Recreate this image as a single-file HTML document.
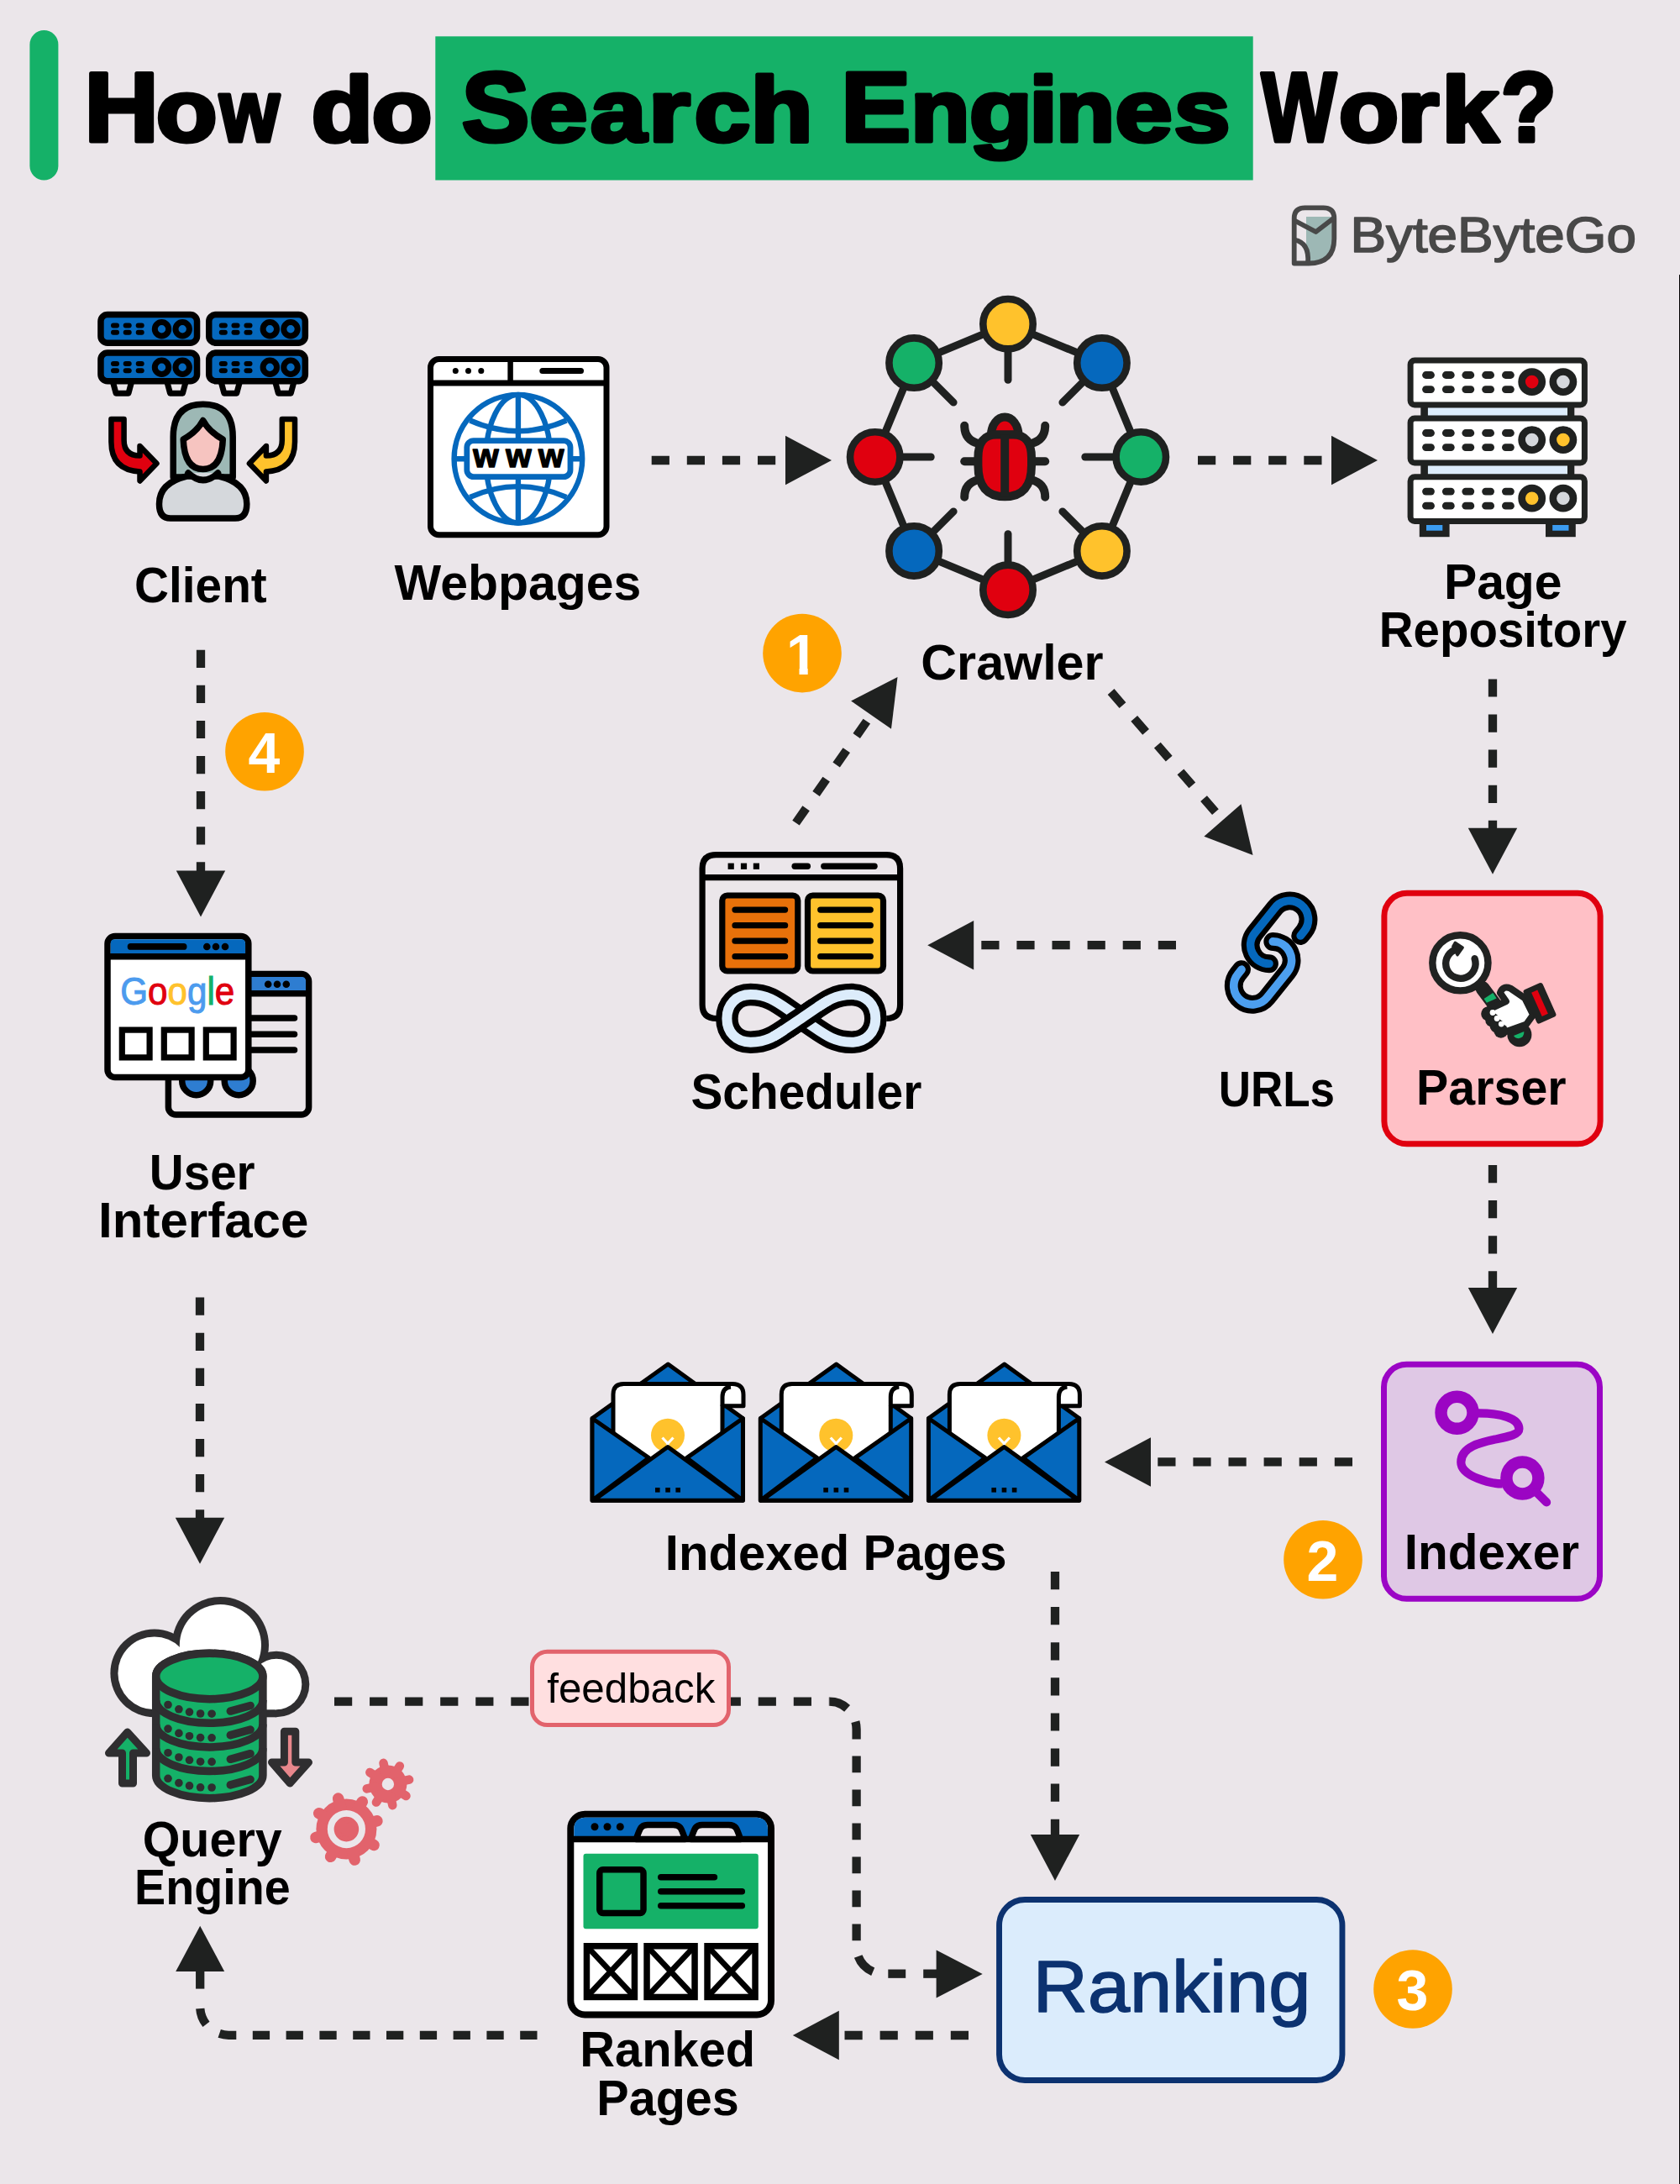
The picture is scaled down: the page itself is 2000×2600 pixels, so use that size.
<!DOCTYPE html>
<html lang="en"><head><meta charset="utf-8"><title>How do Search Engines Work?</title>
<style>
html,body{margin:0;padding:0;background:#EBE6EA;}
body{width:2000px;height:2600px;overflow:hidden;}
svg{display:block;}
text{font-family:"Liberation Sans",sans-serif;}
.lb{font-weight:bold;font-size:56px;fill:#000;text-anchor:middle;}
</style></head><body>
<svg width="2000" height="2600" viewBox="0 0 2000 2600">
<rect x="0" y="0" width="2000" height="2600" fill="#EBE6EA"/>
<rect x="1999" y="327" width="1" height="2273" fill="#000"/>
<rect x="35.4" y="36" width="34" height="178.6" rx="17" fill="#15B168"/>
<rect x="518.3" y="43.3" width="973.4" height="171.2" fill="#15B168"/>
<g id="arrows">
<line x1="775.7" y1="548.0" x2="950.0" y2="548.0" stroke="#1F2120" stroke-width="10.3" stroke-dasharray="21.2 20.9" stroke-dashoffset="0"/><polygon points="990.0,548.0 935.0,577.2 935.0,518.8" fill="#1F2120"/>
<line x1="1426.0" y1="548.0" x2="1600.0" y2="548.0" stroke="#1F2120" stroke-width="10.3" stroke-dasharray="21.2 20.9" stroke-dashoffset="0"/><polygon points="1640.0,548.0 1585.0,577.2 1585.0,518.8" fill="#1F2120"/>
<line x1="1777.0" y1="808.4" x2="1777.0" y2="1000.7" stroke="#1F2120" stroke-width="10.3" stroke-dasharray="21.2 20.9" stroke-dashoffset="0"/><polygon points="1777.0,1040.7 1747.8,985.7 1806.2,985.7" fill="#1F2120"/>
<line x1="1777.0" y1="1387.0" x2="1777.0" y2="1548.0" stroke="#1F2120" stroke-width="10.3" stroke-dasharray="21.2 20.9" stroke-dashoffset="0"/><polygon points="1777.0,1588.0 1747.8,1533.0 1806.2,1533.0" fill="#1F2120"/>
<line x1="1610.0" y1="1740.4" x2="1355.0" y2="1740.4" stroke="#1F2120" stroke-width="10.3" stroke-dasharray="21.2 20.9" stroke-dashoffset="0"/><polygon points="1315.0,1740.4 1370.0,1711.2 1370.0,1769.7" fill="#1F2120"/>
<line x1="1256.0" y1="1871.0" x2="1256.0" y2="2199.0" stroke="#1F2120" stroke-width="10.3" stroke-dasharray="21.2 20.9" stroke-dashoffset="0"/><polygon points="1256.0,2239.0 1226.8,2184.0 1285.2,2184.0" fill="#1F2120"/>
<line x1="1153.0" y1="2423.0" x2="983.8" y2="2423.0" stroke="#1F2120" stroke-width="10.3" stroke-dasharray="21.2 20.9" stroke-dashoffset="0"/><polygon points="943.8,2423.0 998.8,2393.8 998.8,2452.2" fill="#1F2120"/>
<line x1="239.0" y1="773.7" x2="239.0" y2="1051.4" stroke="#1F2120" stroke-width="10.3" stroke-dasharray="21.2 20.9" stroke-dashoffset="0"/><polygon points="239.0,1091.4 209.8,1036.4 268.2,1036.4" fill="#1F2120"/>
<line x1="238.0" y1="1544.6" x2="238.0" y2="1821.7" stroke="#1F2120" stroke-width="10.3" stroke-dasharray="21.2 20.9" stroke-dashoffset="0"/><polygon points="238.0,1861.7 208.8,1806.7 267.2,1806.7" fill="#1F2120"/>
<line x1="947.5" y1="979.6" x2="1045.6" y2="838.8" stroke="#1F2120" stroke-width="10.3" stroke-dasharray="21.2 20.9" stroke-dashoffset="0"/><polygon points="1068.5,806.0 1061.0,867.8 1013.1,834.4" fill="#1F2120"/>
<line x1="1322.6" y1="823.5" x2="1465.3" y2="987.8" stroke="#1F2120" stroke-width="10.3" stroke-dasharray="21.2 20.9" stroke-dashoffset="0"/><polygon points="1491.5,1018.0 1433.4,995.7 1477.5,957.3" fill="#1F2120"/>
<line x1="1400.0" y1="1125.2" x2="1144.2" y2="1125.2" stroke="#1F2120" stroke-width="10.3" stroke-dasharray="21.2 20.9" stroke-dashoffset="0"/><polygon points="1104.2,1125.2 1159.2,1096.0 1159.2,1154.5" fill="#1F2120"/>
<path d="M639.5,2422.8 H272.2 A34,34 0 0 1 238.2,2388.8" fill="none" stroke="#1F2120" stroke-width="10.3" stroke-dasharray="20.3 19.5"/>
<line x1="238.2" y1="2367.6" x2="238.2" y2="2340" stroke="#1F2120" stroke-width="10.3"/>
<polygon points="238.2,2292.7 267.2,2347.1 209.2,2347.1" fill="#1F2120"/>
<line x1="398" y1="2025.7" x2="987.5" y2="2025.7" stroke="#1F2120" stroke-width="10.3" stroke-dasharray="21.2 20.86"/>
<path d="M987.5,2025.7 A32.1,33.1 0 0 1 1008.6,2033.8" fill="none" stroke="#1F2120" stroke-width="10.3"/>
<path d="M1018.4,2049.7 A32.1,33.1 0 0 1 1019.6,2058.8 V2070.5" fill="none" stroke="#1F2120" stroke-width="10.3"/>
<line x1="1019.6" y1="2090.6" x2="1019.6" y2="2311" stroke="#1F2120" stroke-width="10.3" stroke-dasharray="19.6 20.4"/>
<path d="M1021.7,2329.0 A32.1,32 0 0 0 1039.2,2347.2" fill="none" stroke="#1F2120" stroke-width="10.3"/>
<line x1="1057.3" y1="2349.7" x2="1078.2" y2="2349.7" stroke="#1F2120" stroke-width="10.3"/>
<line x1="1099.2" y1="2349.7" x2="1130" y2="2349.7" stroke="#1F2120" stroke-width="10.3"/>
<polygon points="1169.7,2350.0 1114.6,2378.6 1114.6,2321.4" fill="#1F2120"/>
</g>
<rect x="1647.9" y="1063.3" width="257.2" height="298.5" rx="27" fill="#FFC0C6" stroke="#E0000F" stroke-width="7"/>
<rect x="1647.5" y="1624.3" width="257" height="279" rx="27" fill="#DFC8E5" stroke="#9B05C5" stroke-width="7"/>
<rect x="1189.55" y="2261.45" width="408.4" height="215" rx="30.5" fill="#DBECFC" stroke="#0C3270" stroke-width="6.9"/>
<rect x="633.5" y="1966.2" width="234" height="87.3" rx="18" fill="#FFDFE0" stroke="#E2636C" stroke-width="5"/>
<clipPath id="oneclip"><path d="M930,740 H975 V795.6 H961.7 V806 H951.5 V795.6 H930 Z"/></clipPath>
<circle cx="955" cy="777.6" r="46.8" fill="#FFA300"/>
<text x="954.9" y="803.0" font-weight="bold" font-size="68" fill="#fff" text-anchor="middle" clip-path="url(#oneclip)">1</text>
<circle cx="1575" cy="1856.7" r="46.8" fill="#FFA300"/>
<text x="1574.5" y="1882.1000000000001" font-weight="bold" font-size="68" fill="#fff" text-anchor="middle">2</text>
<circle cx="1682" cy="2368" r="46.8" fill="#FFA300"/>
<text x="1681.5" y="2393.4" font-weight="bold" font-size="68" fill="#fff" text-anchor="middle">3</text>
<circle cx="315" cy="894.7" r="46.8" fill="#FFA300"/>
<text x="314.5" y="920.1" font-weight="bold" font-size="68" fill="#fff" text-anchor="middle">4</text>
<g id="client">
<path d="M134.5,455.0 L138.0,468.2 H153.0 L156.5,455.0" fill="#EBE6EA" stroke="#000" stroke-width="7" stroke-linejoin="round"/>
<path d="M199.0,455.0 L202.5,468.2 H217.5 L221.0,455.0" fill="#EBE6EA" stroke="#000" stroke-width="7" stroke-linejoin="round"/>
<path d="M263.3,455.0 L266.8,468.2 H281.8 L285.3,455.0" fill="#EBE6EA" stroke="#000" stroke-width="7" stroke-linejoin="round"/>
<path d="M327.8,455.0 L331.3,468.2 H346.3 L349.8,455.0" fill="#EBE6EA" stroke="#000" stroke-width="7" stroke-linejoin="round"/>
<rect x="119.95" y="374.55" width="114.6" height="33.7" rx="8" fill="#0568BD" stroke="#000" stroke-width="7.5"/><rect x="132.00" y="384.50" width="10" height="6" rx="3" fill="#000"/><rect x="132.00" y="392.80" width="10" height="6" rx="3" fill="#000"/><rect x="146.70" y="384.50" width="10" height="6" rx="3" fill="#000"/><rect x="146.70" y="392.80" width="10" height="6" rx="3" fill="#000"/><rect x="161.70" y="384.50" width="10" height="6" rx="3" fill="#000"/><rect x="161.70" y="392.80" width="10" height="6" rx="3" fill="#000"/><circle cx="192.50" cy="391.70" r="8.2" fill="#0568BD" stroke="#000" stroke-width="7"/><circle cx="217.20" cy="391.70" r="8.2" fill="#0568BD" stroke="#000" stroke-width="7"/>
<rect x="248.75" y="374.55" width="114.6" height="33.7" rx="8" fill="#0568BD" stroke="#000" stroke-width="7.5"/><rect x="260.80" y="384.50" width="10" height="6" rx="3" fill="#000"/><rect x="260.80" y="392.80" width="10" height="6" rx="3" fill="#000"/><rect x="275.50" y="384.50" width="10" height="6" rx="3" fill="#000"/><rect x="275.50" y="392.80" width="10" height="6" rx="3" fill="#000"/><rect x="290.50" y="384.50" width="10" height="6" rx="3" fill="#000"/><rect x="290.50" y="392.80" width="10" height="6" rx="3" fill="#000"/><circle cx="321.30" cy="391.70" r="8.2" fill="#0568BD" stroke="#000" stroke-width="7"/><circle cx="346.00" cy="391.70" r="8.2" fill="#0568BD" stroke="#000" stroke-width="7"/>
<rect x="119.95" y="420.05" width="114.6" height="33.7" rx="8" fill="#0568BD" stroke="#000" stroke-width="7.5"/><rect x="132.00" y="430.00" width="10" height="6" rx="3" fill="#000"/><rect x="132.00" y="438.30" width="10" height="6" rx="3" fill="#000"/><rect x="146.70" y="430.00" width="10" height="6" rx="3" fill="#000"/><rect x="146.70" y="438.30" width="10" height="6" rx="3" fill="#000"/><rect x="161.70" y="430.00" width="10" height="6" rx="3" fill="#000"/><rect x="161.70" y="438.30" width="10" height="6" rx="3" fill="#000"/><circle cx="192.50" cy="437.20" r="8.2" fill="#0568BD" stroke="#000" stroke-width="7"/><circle cx="217.20" cy="437.20" r="8.2" fill="#0568BD" stroke="#000" stroke-width="7"/>
<rect x="248.75" y="420.05" width="114.6" height="33.7" rx="8" fill="#0568BD" stroke="#000" stroke-width="7.5"/><rect x="260.80" y="430.00" width="10" height="6" rx="3" fill="#000"/><rect x="260.80" y="438.30" width="10" height="6" rx="3" fill="#000"/><rect x="275.50" y="430.00" width="10" height="6" rx="3" fill="#000"/><rect x="275.50" y="438.30" width="10" height="6" rx="3" fill="#000"/><rect x="290.50" y="430.00" width="10" height="6" rx="3" fill="#000"/><rect x="290.50" y="438.30" width="10" height="6" rx="3" fill="#000"/><circle cx="321.30" cy="437.20" r="8.2" fill="#0568BD" stroke="#000" stroke-width="7"/><circle cx="346.00" cy="437.20" r="8.2" fill="#0568BD" stroke="#000" stroke-width="7"/>
<path d="M132.4,499 H147.6 V524 Q147.6,542.5 166.5,542.5 V531 L186.5,551.7 L166.5,572.5 V561.5 Q132.4,559.5 132.4,526 Z" fill="#E0000F" stroke="#000" stroke-width="6.5" stroke-linejoin="round"/>
<path d="M351,499 H335.8 V524 Q335.8,542.5 316.9,542.5 V531 L296.9,551.7 L316.9,572.5 V561.5 Q351,559.5 351,526 Z" fill="#FFC22C" stroke="#000" stroke-width="6.5" stroke-linejoin="round"/>
<path d="M206.2,568 V520 Q206.2,481.2 241.7,481.2 Q277.2,481.2 277.2,520 V568 Z" fill="#9DB8B5" stroke="#000" stroke-width="7.5" stroke-linejoin="round"/>
<path d="M189.5,600 Q189.5,575 222,567 L261,567 Q293.8,575 293.8,600 Q293.8,617 280,617 H203 Q189.5,617 189.5,600 Z" fill="#D5D8DC" stroke="#000" stroke-width="7.5" stroke-linejoin="round"/>
<path d="M224,563 Q241.7,580 259.5,563" fill="#D5D8DC" stroke="#000" stroke-width="7.5" stroke-linecap="round"/>
<path d="M241.7,500.5 Q249,514 265.3,523 Q264,558.5 241.7,558.5 Q219.5,558.5 218.2,523 Q234.5,514 241.7,500.5 Z" fill="#F6C4C0" stroke="#000" stroke-width="7.5" stroke-linejoin="round"/>
</g>
<g id="webpages">
<rect x="512.5" y="427.6" width="209.5" height="209.1" rx="10" fill="#fff" stroke="#000" stroke-width="7"/>
<line x1="512.5" y1="456" x2="722" y2="456" stroke="#000" stroke-width="7"/>
<line x1="607.6" y1="427.6" x2="607.6" y2="456" stroke="#000" stroke-width="6.5"/>
<circle cx="542.3" cy="441.5" r="3.5" fill="#000"/>
<circle cx="557.5" cy="441.5" r="3.5" fill="#000"/>
<circle cx="572.8" cy="441.5" r="3.5" fill="#000"/>
<line x1="645.8" y1="441.5" x2="691.5" y2="441.5" stroke="#000" stroke-width="7" stroke-linecap="round"/>
<circle cx="616.9" cy="546.2" r="76.3" fill="none" stroke="#0568BD" stroke-width="6.4"/>
<ellipse cx="616.9" cy="546.2" rx="38.5" ry="76.3" fill="none" stroke="#0568BD" stroke-width="6.4"/>
<line x1="616.9" y1="470" x2="616.9" y2="622.5" stroke="#0568BD" stroke-width="6.4"/>
<line x1="540.6" y1="546.2" x2="693.2" y2="546.2" stroke="#0568BD" stroke-width="6.4"/>
<path d="M559.5,500.5 Q616.9,526 674.3,500.5" fill="none" stroke="#0568BD" stroke-width="6.4"/>
<path d="M559.5,591.9 Q616.9,566.4 674.3,591.9" fill="none" stroke="#0568BD" stroke-width="6.4"/>
<rect x="555.8" y="524.6" width="123.2" height="43" rx="8" fill="#fff" stroke="#0568BD" stroke-width="6.8"/>
<text x="617.3" y="556.3" font-weight="bold" font-size="39" fill="#000" stroke="#000" stroke-width="1.5" stroke-linejoin="round" text-anchor="middle" textLength="108" lengthAdjust="spacing">www</text>
</g>
<g id="crawler">
<polygon points="1200.0,385.7 1311.9,432.1 1358.3,544.0 1311.9,655.9 1200.0,702.3 1088.1,655.9 1041.7,544.0 1088.1,432.1" fill="none" stroke="#1F2120" stroke-width="9"/>
<line x1="1200.0" y1="385.7" x2="1200.0" y2="452.2" stroke="#1F2120" stroke-width="9" stroke-linecap="round"/>
<line x1="1311.9" y1="432.1" x2="1264.9" y2="479.1" stroke="#1F2120" stroke-width="9" stroke-linecap="round"/>
<line x1="1358.3" y1="544.0" x2="1291.8" y2="544.0" stroke="#1F2120" stroke-width="9" stroke-linecap="round"/>
<line x1="1311.9" y1="655.9" x2="1264.9" y2="608.9" stroke="#1F2120" stroke-width="9" stroke-linecap="round"/>
<line x1="1200.0" y1="702.3" x2="1200.0" y2="635.8" stroke="#1F2120" stroke-width="9" stroke-linecap="round"/>
<line x1="1088.1" y1="655.9" x2="1135.1" y2="608.9" stroke="#1F2120" stroke-width="9" stroke-linecap="round"/>
<line x1="1041.7" y1="544.0" x2="1108.2" y2="544.0" stroke="#1F2120" stroke-width="9" stroke-linecap="round"/>
<line x1="1088.1" y1="432.1" x2="1135.1" y2="479.1" stroke="#1F2120" stroke-width="9" stroke-linecap="round"/>
<circle cx="1200.0" cy="385.7" r="29.7" fill="#FFC22C" stroke="#1F2120" stroke-width="8.6"/>
<circle cx="1311.9" cy="432.1" r="29.7" fill="#0568BD" stroke="#1F2120" stroke-width="8.6"/>
<circle cx="1358.3" cy="544.0" r="29.7" fill="#15B168" stroke="#1F2120" stroke-width="8.6"/>
<circle cx="1311.9" cy="655.9" r="29.7" fill="#FFC22C" stroke="#1F2120" stroke-width="8.6"/>
<circle cx="1200.0" cy="702.3" r="29.7" fill="#E0000F" stroke="#1F2120" stroke-width="8.6"/>
<circle cx="1088.1" cy="655.9" r="29.7" fill="#0568BD" stroke="#1F2120" stroke-width="8.6"/>
<circle cx="1041.7" cy="544.0" r="29.7" fill="#E0000F" stroke="#1F2120" stroke-width="8.6"/>
<circle cx="1088.1" cy="432.1" r="29.7" fill="#15B168" stroke="#1F2120" stroke-width="8.6"/>
<path d="M1148.2,506.7 Q1148.2,524 1165,528" fill="none" stroke="#1F2120" stroke-width="10" stroke-linecap="round"/>
<path d="M1244.2,506.7 Q1244.2,524 1227.4,528" fill="none" stroke="#1F2120" stroke-width="10" stroke-linecap="round"/>
<line x1="1148.2" y1="549.3" x2="1164" y2="549.3" fill="none" stroke="#1F2120" stroke-width="10" stroke-linecap="round"/>
<line x1="1244.2" y1="549.3" x2="1228" y2="549.3" fill="none" stroke="#1F2120" stroke-width="10" stroke-linecap="round"/>
<path d="M1148.2,591.8 Q1148.2,575 1165,571" fill="none" stroke="#1F2120" stroke-width="10" stroke-linecap="round"/>
<path d="M1244.2,591.8 Q1244.2,575 1227.4,571" fill="none" stroke="#1F2120" stroke-width="10" stroke-linecap="round"/>
<path d="M1180,517.6 A16.2,21 0 0 1 1212.4,517.6 Z" fill="#E0000F" stroke="#1F2120" stroke-width="10" stroke-linejoin="round"/>
<path d="M1164.4,545 Q1164.4,517.6 1186,517.6 H1206.4 Q1228,517.6 1228,545 V554 Q1228,591.2 1196.2,591.2 Q1164.4,591.2 1164.4,554 Z" fill="#E0000F" stroke="#1F2120" stroke-width="10"/>
<line x1="1196.2" y1="517.6" x2="1196.2" y2="591.2" stroke="#1F2120" stroke-width="10"/>
</g>
<g id="pagerepo">
<rect x="1691.3" y="480" width="183" height="20" fill="#202221"/>
<rect x="1699.9" y="480" width="166.1" height="20" fill="#DCECFB"/>
<rect x="1691.3" y="549" width="183" height="20" fill="#202221"/>
<rect x="1699.9" y="549" width="166.1" height="20" fill="#DCECFB"/>
<rect x="1689.8" y="620" width="35.8" height="19.2" fill="#202221"/>
<rect x="1698.0" y="625" width="19.3" height="6.7" fill="#3B9CF0"/>
<rect x="1840" y="620" width="35.8" height="19.2" fill="#202221"/>
<rect x="1848.2" y="625" width="19.3" height="6.7" fill="#3B9CF0"/>
<rect x="1679.1" y="429.1" width="207.3" height="52.8" rx="5" fill="#fff" stroke="#202221" stroke-width="7"/><rect x="1693.1" y="442.1" width="14.8" height="8.8" rx="4.4" fill="#202221"/><rect x="1693.1" y="459.2" width="14.8" height="8.8" rx="4.4" fill="#202221"/><rect x="1716.9" y="442.1" width="14.8" height="8.8" rx="4.4" fill="#202221"/><rect x="1716.9" y="459.2" width="14.8" height="8.8" rx="4.4" fill="#202221"/><rect x="1740.4" y="442.1" width="14.8" height="8.8" rx="4.4" fill="#202221"/><rect x="1740.4" y="459.2" width="14.8" height="8.8" rx="4.4" fill="#202221"/><rect x="1764.2" y="442.1" width="14.8" height="8.8" rx="4.4" fill="#202221"/><rect x="1764.2" y="459.2" width="14.8" height="8.8" rx="4.4" fill="#202221"/><rect x="1788.0" y="442.1" width="14.8" height="8.8" rx="4.4" fill="#202221"/><rect x="1788.0" y="459.2" width="14.8" height="8.8" rx="4.4" fill="#202221"/><circle cx="1823.7" cy="454.6" r="12.1" fill="#E0000F" stroke="#202221" stroke-width="8.6"/><circle cx="1860.9" cy="454.6" r="12.1" fill="#D5D8DC" stroke="#202221" stroke-width="8.6"/>
<rect x="1679.1" y="498.1" width="207.3" height="52.8" rx="5" fill="#fff" stroke="#202221" stroke-width="7"/><rect x="1693.1" y="511.1" width="14.8" height="8.8" rx="4.4" fill="#202221"/><rect x="1693.1" y="528.2" width="14.8" height="8.8" rx="4.4" fill="#202221"/><rect x="1716.9" y="511.1" width="14.8" height="8.8" rx="4.4" fill="#202221"/><rect x="1716.9" y="528.2" width="14.8" height="8.8" rx="4.4" fill="#202221"/><rect x="1740.4" y="511.1" width="14.8" height="8.8" rx="4.4" fill="#202221"/><rect x="1740.4" y="528.2" width="14.8" height="8.8" rx="4.4" fill="#202221"/><rect x="1764.2" y="511.1" width="14.8" height="8.8" rx="4.4" fill="#202221"/><rect x="1764.2" y="528.2" width="14.8" height="8.8" rx="4.4" fill="#202221"/><rect x="1788.0" y="511.1" width="14.8" height="8.8" rx="4.4" fill="#202221"/><rect x="1788.0" y="528.2" width="14.8" height="8.8" rx="4.4" fill="#202221"/><circle cx="1823.7" cy="523.6" r="12.1" fill="#D5D8DC" stroke="#202221" stroke-width="8.6"/><circle cx="1860.9" cy="523.6" r="12.1" fill="#FFC22C" stroke="#202221" stroke-width="8.6"/>
<rect x="1679.1" y="567.7" width="207.3" height="52.8" rx="5" fill="#fff" stroke="#202221" stroke-width="7"/><rect x="1693.1" y="580.7" width="14.8" height="8.8" rx="4.4" fill="#202221"/><rect x="1693.1" y="597.8" width="14.8" height="8.8" rx="4.4" fill="#202221"/><rect x="1716.9" y="580.7" width="14.8" height="8.8" rx="4.4" fill="#202221"/><rect x="1716.9" y="597.8" width="14.8" height="8.8" rx="4.4" fill="#202221"/><rect x="1740.4" y="580.7" width="14.8" height="8.8" rx="4.4" fill="#202221"/><rect x="1740.4" y="597.8" width="14.8" height="8.8" rx="4.4" fill="#202221"/><rect x="1764.2" y="580.7" width="14.8" height="8.8" rx="4.4" fill="#202221"/><rect x="1764.2" y="597.8" width="14.8" height="8.8" rx="4.4" fill="#202221"/><rect x="1788.0" y="580.7" width="14.8" height="8.8" rx="4.4" fill="#202221"/><rect x="1788.0" y="597.8" width="14.8" height="8.8" rx="4.4" fill="#202221"/><circle cx="1823.7" cy="593.2" r="12.1" fill="#FFC22C" stroke="#202221" stroke-width="8.6"/><circle cx="1860.9" cy="593.2" r="12.1" fill="#D5D8DC" stroke="#202221" stroke-width="8.6"/>
</g>
<g id="ui">
<rect x="200.4" y="1159.5" width="167.2" height="167.6" rx="9" fill="#EBE6EA" stroke="#000" stroke-width="7.5"/>
<path d="M204,1182.8 V1168 Q204,1163 209,1163 H359 Q364,1163 364,1168 V1182.8 Z" fill="#2E7DD1"/>
<line x1="200.4" y1="1182.8" x2="367.6" y2="1182.8" stroke="#000" stroke-width="7.5"/>
<circle cx="319.2" cy="1171.7" r="4.3" fill="#000"/>
<circle cx="330" cy="1171.7" r="4.3" fill="#000"/>
<circle cx="340.8" cy="1171.7" r="4.3" fill="#000"/>
<line x1="290" y1="1212" x2="350.5" y2="1212" stroke="#000" stroke-width="7.5" stroke-linecap="round"/>
<line x1="290" y1="1231.2" x2="350.5" y2="1231.2" stroke="#000" stroke-width="7.5" stroke-linecap="round"/>
<line x1="290" y1="1250" x2="350.5" y2="1250" stroke="#000" stroke-width="7.5" stroke-linecap="round"/>
<circle cx="233.7" cy="1286.7" r="17" fill="#2E7DD1" stroke="#000" stroke-width="7.5"/>
<circle cx="284.2" cy="1286.7" r="17" fill="#2E7DD1" stroke="#000" stroke-width="7.5"/>
<rect x="128" y="1114.5" width="167.8" height="168" rx="9" fill="#fff" stroke="#000" stroke-width="7.5"/>
<path d="M131.7,1138.7 V1123 Q131.7,1118.2 136.5,1118.2 H287.3 Q292,1118.2 292,1123 V1138.7 Z" fill="#0568BD"/>
<line x1="128" y1="1138.7" x2="295.8" y2="1138.7" stroke="#000" stroke-width="7.5"/>
<line x1="155.6" y1="1126.9" x2="218.6" y2="1126.9" stroke="#000" stroke-width="7.8" stroke-linecap="round"/>
<circle cx="246.3" cy="1127" r="4.3" fill="#000"/>
<circle cx="257" cy="1127" r="4.3" fill="#000"/>
<circle cx="268" cy="1127" r="4.3" fill="#000"/>
<rect x="145.3" y="1226.1" width="32.8" height="32.8" fill="#fff" stroke="#000" stroke-width="7.2"/>
<rect x="195.3" y="1226.1" width="32.8" height="32.8" fill="#fff" stroke="#000" stroke-width="7.2"/>
<rect x="245.3" y="1226.1" width="32.8" height="32.8" fill="#fff" stroke="#000" stroke-width="7.2"/>
<text x="143.3" y="1195.8" font-size="46" stroke-width="1" textLength="136" lengthAdjust="spacingAndGlyphs"><tspan fill="#4C9BEE" stroke="#4C9BEE">G</tspan><tspan fill="#E0000F" stroke="#E0000F">o</tspan><tspan fill="#FFC22C" stroke="#FFC22C">o</tspan><tspan fill="#4C9BEE" stroke="#4C9BEE">g</tspan><tspan fill="#15B168" stroke="#15B168">l</tspan><tspan fill="#E0000F" stroke="#E0000F">e</tspan></text>
</g>
<g id="scheduler">
<path d="M852,1212.5 H853 Q836.1,1212.5 836.1,1196 V1034 Q836.1,1017.7 852.5,1017.7 H1055.2 Q1071.6,1017.7 1071.6,1034 V1196 Q1071.6,1212.5 1055.2,1212.5" fill="none" stroke="#000" stroke-width="7.2"/>
<line x1="836.1" y1="1044.6" x2="1071.6" y2="1044.6" stroke="#000" stroke-width="7.2"/>
<rect x="866.6" y="1027.6" width="7.2" height="7.3" fill="#000"/>
<rect x="881.9" y="1027.6" width="7.2" height="7.3" fill="#000"/>
<rect x="896.8" y="1027.6" width="7.2" height="7.3" fill="#000"/>
<line x1="946.1" y1="1031.25" x2="961.4" y2="1031.25" stroke="#000" stroke-width="7.3" stroke-linecap="round"/>
<line x1="980.8" y1="1031.25" x2="1041.1" y2="1031.25" stroke="#000" stroke-width="7.3" stroke-linecap="round"/>
<rect x="859.8" y="1066" width="90" height="90" rx="6" fill="#E8710A" stroke="#000" stroke-width="7.2"/>
<line x1="875.0" y1="1083.1" x2="934.6" y2="1083.1" stroke="#000" stroke-width="7.2" stroke-linecap="round"/>
<line x1="875.0" y1="1101.7" x2="934.6" y2="1101.7" stroke="#000" stroke-width="7.2" stroke-linecap="round"/>
<line x1="875.0" y1="1120.2" x2="934.6" y2="1120.2" stroke="#000" stroke-width="7.2" stroke-linecap="round"/>
<line x1="875.0" y1="1138.7" x2="934.6" y2="1138.7" stroke="#000" stroke-width="7.2" stroke-linecap="round"/>
<rect x="961.5" y="1066" width="90" height="90" rx="6" fill="#FFC22C" stroke="#000" stroke-width="7.2"/>
<line x1="976.7" y1="1083.1" x2="1036.3" y2="1083.1" stroke="#000" stroke-width="7.2" stroke-linecap="round"/>
<line x1="976.7" y1="1101.7" x2="1036.3" y2="1101.7" stroke="#000" stroke-width="7.2" stroke-linecap="round"/>
<line x1="976.7" y1="1120.2" x2="1036.3" y2="1120.2" stroke="#000" stroke-width="7.2" stroke-linecap="round"/>
<line x1="976.7" y1="1138.7" x2="1036.3" y2="1138.7" stroke="#000" stroke-width="7.2" stroke-linecap="round"/>
<path d="M953.7,1212.4 C927.7,1195.4 917.5,1184.1 893.5,1184.1 C876.5,1184.1 865.4,1196.1 865.4,1212.4 C865.4,1228.7 876.5,1240.7 893.5,1240.7 C917.5,1240.7 927.7,1229.4 953.7,1212.4 C979.7,1195.4 990.0,1184.1 1014.0,1184.1 C1031.0,1184.1 1042.3,1196.1 1042.3,1212.4 C1042.3,1228.7 1031.0,1240.7 1014.0,1240.7 C990.0,1240.7 979.7,1229.4 953.7,1212.4 Z" fill="none" stroke="#000" stroke-width="26.5" stroke-linejoin="round"/>
<path d="M953.7,1212.4 C927.7,1195.4 917.5,1184.1 893.5,1184.1 C876.5,1184.1 865.4,1196.1 865.4,1212.4 C865.4,1228.7 876.5,1240.7 893.5,1240.7 C917.5,1240.7 927.7,1229.4 953.7,1212.4 C979.7,1195.4 990.0,1184.1 1014.0,1184.1 C1031.0,1184.1 1042.3,1196.1 1042.3,1212.4 C1042.3,1228.7 1031.0,1240.7 1014.0,1240.7 C990.0,1240.7 979.7,1229.4 953.7,1212.4 Z" fill="none" stroke="#DCECFB" stroke-width="12" stroke-linejoin="round"/>
<clipPath id="infc1"><circle cx="953.7" cy="1212.4" r="25"/></clipPath><clipPath id="infc2"><circle cx="953.7" cy="1212.4" r="40"/></clipPath>
<path d="M893.5,1240.7 C917.5,1240.7 927.7,1229.4 953.7,1212.4 C979.7,1195.4 990.0,1184.1 1014.0,1184.1" fill="none" stroke="#000" stroke-width="26.5" clip-path="url(#infc1)"/>
<path d="M893.5,1240.7 C917.5,1240.7 927.7,1229.4 953.7,1212.4 C979.7,1195.4 990.0,1184.1 1014.0,1184.1" fill="none" stroke="#DCECFB" stroke-width="12" clip-path="url(#infc2)"/>
</g>
<g id="urls">
<path d="M1510.96,1147.26 A22.26,22.26 0 0 1 1493.60,1111.09 L1517.88,1080.73 A22.26,22.26 0 0 1 1549.15,1077.28 A22.26,22.26 0 0 1 1552.60,1108.55 L1548.23,1114.01" fill="none" stroke="#000" stroke-width="21.9" stroke-linecap="round"/>
<path d="M1510.96,1147.26 A22.26,22.26 0 0 1 1493.60,1111.09 L1517.88,1080.73 A22.26,22.26 0 0 1 1549.15,1077.28 A22.26,22.26 0 0 1 1552.60,1108.55 L1548.23,1114.01" fill="none" stroke="#0568BD" stroke-width="9.7" stroke-linecap="round"/>
<g transform="rotate(180 1513.13 1134.11)"><path d="M1510.96,1147.26 A22.26,22.26 0 0 1 1493.60,1111.09 L1517.88,1080.73 A22.26,22.26 0 0 1 1549.15,1077.28 A22.26,22.26 0 0 1 1552.60,1108.55 L1548.23,1114.01" fill="none" stroke="#000" stroke-width="21.9" stroke-linecap="round"/><path d="M1510.96,1147.26 A22.26,22.26 0 0 1 1493.60,1111.09 L1517.88,1080.73 A22.26,22.26 0 0 1 1549.15,1077.28 A22.26,22.26 0 0 1 1552.60,1108.55 L1548.23,1114.01" fill="none" stroke="#4C9FEF" stroke-width="9.7" stroke-linecap="round"/></g>
</g>
<g id="parser">
<line x1="1765.0" y1="1176.6" x2="1805.7" y2="1231.3" stroke="#202221" stroke-width="17" stroke-linecap="round"/>
<circle cx="1808.9" cy="1231.8" r="14.5" fill="#202221"/>
<path d="M1802.0,1232.9 L1814.3,1228.0 Q1814.8,1235.0 1807.9,1236.3 Q1804.1,1236.1 1802.0,1232.9 Z" fill="#15B168"/>
<polygon points="1766.6,1188.9 1777.3,1182.0 1781.6,1188.4 1769.8,1193.8" fill="#15B168"/>
<circle cx="1738.4" cy="1146.3" r="33.1" fill="#fff" stroke="#202221" stroke-width="8.4"/>
<path d="M1755.6,1141.3 A17.7,17.7 0 1 1 1731.3,1131.1" fill="none" stroke="#202221" stroke-width="8.4" stroke-linecap="round"/>
<polygon points="1732.3,1122.0 1741.4,1128.1 1735.0,1137.0 1729.6,1126.8" fill="#202221" stroke="#202221" stroke-width="3" stroke-linejoin="round"/>
<path d="M1785.9,1182.0 Q1789.1,1172.9 1798.2,1176.6 L1815.4,1188.4 L1825.2,1208.2 L1817.0,1219.5 L1789.1,1229.6 L1768.8,1203.4 L1792.9,1192.1 Z" fill="#fff" stroke="#202221" stroke-width="8" stroke-linejoin="round"/>
<circle cx="1771.6" cy="1207.1" r="8.4" fill="#202221"/>
<circle cx="1776.6" cy="1214.4" r="8.4" fill="#202221"/>
<circle cx="1781.9" cy="1221.1" r="8.4" fill="#202221"/>
<circle cx="1786.8" cy="1227.3" r="8.4" fill="#202221"/>
<circle cx="1777.0" cy="1205.5" r="3.4" fill="#fff"/>
<circle cx="1782.1" cy="1212.5" r="3.4" fill="#fff"/>
<circle cx="1787.3" cy="1219.1" r="3.4" fill="#fff"/>
<g transform="rotate(-24 1833.0 1194.3)"><rect x="1820.5" y="1172.3" width="25" height="44" rx="3" fill="#202221"/><rect x="1829.1" y="1178.8" width="7.8" height="31" fill="#E0000F"/></g>
</g>
<g id="indexer">
<circle cx="1734.5" cy="1681.8" r="19" fill="none" stroke="#9B05C3" stroke-width="14.4"/>
<circle cx="1812.4" cy="1759.5" r="19" fill="none" stroke="#9B05C3" stroke-width="14.4"/>
<path d="M1759.6,1682.3 C1786.4,1682.3 1808.4,1688.2 1808.4,1701.1 C1808.4,1717.1 1739.3,1708.6 1739.3,1740.7 C1739.3,1757.9 1775.7,1766.4 1788.6,1766.4" fill="none" stroke="#9B05C3" stroke-width="10.2"/>
<line x1="1829.3" y1="1776.6" x2="1841.1" y2="1788.4" stroke="#9B05C3" stroke-width="10.2" stroke-linecap="round"/>
</g>
<clipPath id="envclip"><path d="M702.4,1789 V1687 L795.3,1620.6 L887,1687 V1789 Z"/></clipPath>
<g transform="translate(0,0)"><path d="M705,1786.2 V1688.5 L795.3,1624 L884.4,1688.5 V1786.2 Z" fill="#0568BD" stroke="#000" stroke-width="5" stroke-linejoin="round"/><path d="M730,1745 V1660 Q730,1647.5 742.5,1647.5 H872 Q885,1647.5 885,1660.5 V1673.8 H860 V1745 Z" fill="#fff" stroke="#000" stroke-width="5" stroke-linejoin="round"/><path d="M860,1673.8 V1663 Q860,1652 870,1651" fill="none" stroke="#000" stroke-width="5"/><circle cx="795" cy="1708.75" r="20" fill="#FFC22C"/><path d="M788.5,1711.5 L795,1718.5 L801.5,1711.5 M795,1718.5 V1724" fill="none" stroke="#fff" stroke-width="3.2"/><g clip-path="url(#envclip)"><polygon points="705,1688.5 772.5,1735.6 705,1786.2" fill="#0568BD" stroke="#000" stroke-width="5" stroke-linejoin="round"/><polygon points="884.4,1688.5 817.5,1735.6 884.4,1786.2" fill="#0568BD" stroke="#000" stroke-width="5" stroke-linejoin="round"/><polygon points="706.5,1786.2 795,1722.5 883,1786.2" fill="#0568BD" stroke="#000" stroke-width="5" stroke-linejoin="round"/></g><rect x="780" y="1771" width="5.6" height="5.6" fill="#000"/><rect x="792.25" y="1771" width="5.6" height="5.6" fill="#000"/><rect x="804.4" y="1771" width="5.6" height="5.6" fill="#000"/></g>
<g transform="translate(200.3,0)"><path d="M705,1786.2 V1688.5 L795.3,1624 L884.4,1688.5 V1786.2 Z" fill="#0568BD" stroke="#000" stroke-width="5" stroke-linejoin="round"/><path d="M730,1745 V1660 Q730,1647.5 742.5,1647.5 H872 Q885,1647.5 885,1660.5 V1673.8 H860 V1745 Z" fill="#fff" stroke="#000" stroke-width="5" stroke-linejoin="round"/><path d="M860,1673.8 V1663 Q860,1652 870,1651" fill="none" stroke="#000" stroke-width="5"/><circle cx="795" cy="1708.75" r="20" fill="#FFC22C"/><path d="M788.5,1711.5 L795,1718.5 L801.5,1711.5 M795,1718.5 V1724" fill="none" stroke="#fff" stroke-width="3.2"/><g clip-path="url(#envclip)"><polygon points="705,1688.5 772.5,1735.6 705,1786.2" fill="#0568BD" stroke="#000" stroke-width="5" stroke-linejoin="round"/><polygon points="884.4,1688.5 817.5,1735.6 884.4,1786.2" fill="#0568BD" stroke="#000" stroke-width="5" stroke-linejoin="round"/><polygon points="706.5,1786.2 795,1722.5 883,1786.2" fill="#0568BD" stroke="#000" stroke-width="5" stroke-linejoin="round"/></g><rect x="780" y="1771" width="5.6" height="5.6" fill="#000"/><rect x="792.25" y="1771" width="5.6" height="5.6" fill="#000"/><rect x="804.4" y="1771" width="5.6" height="5.6" fill="#000"/></g>
<g transform="translate(400.4,0)"><path d="M705,1786.2 V1688.5 L795.3,1624 L884.4,1688.5 V1786.2 Z" fill="#0568BD" stroke="#000" stroke-width="5" stroke-linejoin="round"/><path d="M730,1745 V1660 Q730,1647.5 742.5,1647.5 H872 Q885,1647.5 885,1660.5 V1673.8 H860 V1745 Z" fill="#fff" stroke="#000" stroke-width="5" stroke-linejoin="round"/><path d="M860,1673.8 V1663 Q860,1652 870,1651" fill="none" stroke="#000" stroke-width="5"/><circle cx="795" cy="1708.75" r="20" fill="#FFC22C"/><path d="M788.5,1711.5 L795,1718.5 L801.5,1711.5 M795,1718.5 V1724" fill="none" stroke="#fff" stroke-width="3.2"/><g clip-path="url(#envclip)"><polygon points="705,1688.5 772.5,1735.6 705,1786.2" fill="#0568BD" stroke="#000" stroke-width="5" stroke-linejoin="round"/><polygon points="884.4,1688.5 817.5,1735.6 884.4,1786.2" fill="#0568BD" stroke="#000" stroke-width="5" stroke-linejoin="round"/><polygon points="706.5,1786.2 795,1722.5 883,1786.2" fill="#0568BD" stroke="#000" stroke-width="5" stroke-linejoin="round"/></g><rect x="780" y="1771" width="5.6" height="5.6" fill="#000"/><rect x="792.25" y="1771" width="5.6" height="5.6" fill="#000"/><rect x="804.4" y="1771" width="5.6" height="5.6" fill="#000"/></g>
<g id="query">
<circle cx="183.8" cy="1991.9" r="52.4" fill="#2F2E30"/>
<circle cx="262.4" cy="1958.6" r="57.6" fill="#2F2E30"/>
<circle cx="329.0" cy="2005.0" r="39.3" fill="#2F2E30"/>
<rect x="183.8" y="1995" width="145.2" height="49.3" fill="#2F2E30"/>
<circle cx="183.8" cy="1991.9" r="43.4" fill="#fff"/>
<circle cx="262.4" cy="1958.6" r="48.6" fill="#fff"/>
<circle cx="329.0" cy="2005.0" r="30.299999999999997" fill="#fff"/>
<rect x="183.8" y="1985" width="145.2" height="50.3" fill="#fff"/>
<path d="M185.70000000000002,1995.5 V2113.5 A63.6,27.2 0 0 0 312.90000000000003,2113.5 V1995.5 A63.6,27.2 0 0 0 185.70000000000002,1995.5 Z" fill="#15B168" stroke="#2F2E30" stroke-width="9.5"/>
<ellipse cx="249.3" cy="1995.5" rx="63.6" ry="27.2" fill="#15B168" stroke="#2F2E30" stroke-width="9.5"/>
<path d="M185.70000000000002,2024.1 A63.6,27.2 0 0 0 312.90000000000003,2024.1" fill="none" stroke="#2F2E30" stroke-width="9.5"/>
<path d="M185.70000000000002,2052.7 A63.6,27.2 0 0 0 312.90000000000003,2052.7" fill="none" stroke="#2F2E30" stroke-width="9.5"/>
<path d="M185.70000000000002,2081.3 A63.6,27.2 0 0 0 312.90000000000003,2081.3" fill="none" stroke="#2F2E30" stroke-width="9.5"/>
<circle cx="200" cy="2029.5" r="4.8" fill="#2F2E30"/>
<circle cx="212.9" cy="2034.8" r="4.8" fill="#2F2E30"/>
<circle cx="225.5" cy="2038.1" r="4.8" fill="#2F2E30"/>
<circle cx="238.6" cy="2040.0" r="4.8" fill="#2F2E30"/>
<circle cx="252.1" cy="2040.2" r="4.8" fill="#2F2E30"/>
<line x1="274.3" y1="2037.1" x2="298.1" y2="2030.5" stroke="#2F2E30" stroke-width="9.5" stroke-linecap="round"/>
<circle cx="200" cy="2058.1" r="4.8" fill="#2F2E30"/>
<circle cx="212.9" cy="2063.4" r="4.8" fill="#2F2E30"/>
<circle cx="225.5" cy="2066.7" r="4.8" fill="#2F2E30"/>
<circle cx="238.6" cy="2068.6" r="4.8" fill="#2F2E30"/>
<circle cx="252.1" cy="2068.8" r="4.8" fill="#2F2E30"/>
<line x1="274.3" y1="2065.7" x2="298.1" y2="2059.1" stroke="#2F2E30" stroke-width="9.5" stroke-linecap="round"/>
<circle cx="200" cy="2086.7" r="4.8" fill="#2F2E30"/>
<circle cx="212.9" cy="2092.0" r="4.8" fill="#2F2E30"/>
<circle cx="225.5" cy="2095.3" r="4.8" fill="#2F2E30"/>
<circle cx="238.6" cy="2097.2" r="4.8" fill="#2F2E30"/>
<circle cx="252.1" cy="2097.4" r="4.8" fill="#2F2E30"/>
<line x1="274.3" y1="2094.3" x2="298.1" y2="2087.7" stroke="#2F2E30" stroke-width="9.5" stroke-linecap="round"/>
<circle cx="200" cy="2117.3" r="4.8" fill="#2F2E30"/>
<circle cx="212.9" cy="2122.6" r="4.8" fill="#2F2E30"/>
<circle cx="225.5" cy="2125.9" r="4.8" fill="#2F2E30"/>
<circle cx="238.6" cy="2127.8" r="4.8" fill="#2F2E30"/>
<circle cx="252.1" cy="2128.0" r="4.8" fill="#2F2E30"/>
<line x1="274.3" y1="2124.9" x2="298.1" y2="2118.3" stroke="#2F2E30" stroke-width="9.5" stroke-linecap="round"/>
<path d="M151.7,2062 L174.5,2087 H158.5 V2123 H145.5 V2087 H129.5 Z" fill="#15B168" stroke="#2F2E30" stroke-width="9" stroke-linejoin="round"/>
<path d="M345.2,2123 L367.5,2098 H351.8 V2061.2 H338.4 V2098 H323.5 Z" fill="#E8878C" stroke="#2F2E30" stroke-width="9" stroke-linejoin="round"/>
</g>
<circle cx="412.4" cy="2177.6" r="36" fill="#E2636C"/><line x1="402.6" y1="2141.1" x2="422.2" y2="2214.1" stroke="#E2636C" stroke-width="13.5" stroke-linecap="round"/><line x1="431.3" y1="2144.9" x2="393.5" y2="2210.3" stroke="#E2636C" stroke-width="13.5" stroke-linecap="round"/><line x1="448.9" y1="2167.8" x2="375.9" y2="2187.4" stroke="#E2636C" stroke-width="13.5" stroke-linecap="round"/><line x1="445.1" y1="2196.5" x2="379.7" y2="2158.7" stroke="#E2636C" stroke-width="13.5" stroke-linecap="round"/><circle cx="412.4" cy="2177.6" r="18.700000000000003" fill="none" stroke="#EBE6EA" stroke-width="7.800000000000001"/>
<circle cx="461.9" cy="2124" r="22.5" fill="#E2636C"/><line x1="456.5" y1="2098.8" x2="467.3" y2="2149.2" stroke="#E2636C" stroke-width="10.5" stroke-linecap="round"/><line x1="475.9" y1="2102.4" x2="447.9" y2="2145.6" stroke="#E2636C" stroke-width="10.5" stroke-linecap="round"/><line x1="487.1" y1="2118.6" x2="436.7" y2="2129.4" stroke="#E2636C" stroke-width="10.5" stroke-linecap="round"/><line x1="483.5" y1="2138.0" x2="440.3" y2="2110.0" stroke="#E2636C" stroke-width="10.5" stroke-linecap="round"/><circle cx="461.9" cy="2124" r="7.2" fill="#EBE6EA"/>
<g id="ranked">
<rect x="679.3" y="2159.8" width="238.7" height="238.7" rx="17" fill="#fff" stroke="#000" stroke-width="8"/>
<path d="M683.3,2189.5 V2178 Q683.3,2163.8 697.5,2163.8 H899.8 Q914,2163.8 914,2178 V2189.5 Z" fill="#0568BD"/>
<line x1="679.3" y1="2189.5" x2="918" y2="2189.5" stroke="#000" stroke-width="7.5"/>
<circle cx="708" cy="2174.7" r="4.5" fill="#000"/>
<circle cx="723" cy="2174.7" r="4.5" fill="#000"/>
<circle cx="738.3" cy="2174.7" r="4.5" fill="#000"/>
<path d="M757.3,2189.5 C762,2176 763,2172.5 771,2172.5 H801.5 C810,2172.5 811,2176 815.5,2189.5 Z" fill="#EBE6EA" stroke="#000" stroke-width="7.5" stroke-linejoin="round"/>
<path d="M822.5,2189.5 C827,2176 828,2172.5 836,2172.5 H867.5 C876,2172.5 877,2176 881.5,2189.5 Z" fill="#EBE6EA" stroke="#000" stroke-width="7.5" stroke-linejoin="round"/>
<rect x="694.5" y="2206.7" width="208.3" height="89.6" rx="3" fill="#15B168"/>
<rect x="713.8" y="2225.8" width="52.2" height="51.8" rx="4" fill="#15B168" stroke="#000" stroke-width="7.5"/>
<line x1="786.8" y1="2234.7" x2="850.4" y2="2234.7" stroke="#000" stroke-width="7.5" stroke-linecap="round"/>
<line x1="786.8" y1="2251.7" x2="883.3" y2="2251.7" stroke="#000" stroke-width="7.5" stroke-linecap="round"/>
<line x1="786.8" y1="2268.7" x2="883.3" y2="2268.7" stroke="#000" stroke-width="7.5" stroke-linecap="round"/>
<rect x="698.45" y="2316.75" width="57" height="60.7" fill="#fff" stroke="#000" stroke-width="7.5"/>
<path d="M698.45,2316.75 L755.45,2377.45 M755.45,2316.75 L698.45,2377.45" stroke="#000" stroke-width="6.8" fill="none"/>
<rect x="770.05" y="2316.75" width="57" height="60.7" fill="#fff" stroke="#000" stroke-width="7.5"/>
<path d="M770.05,2316.75 L827.05,2377.45 M827.05,2316.75 L770.05,2377.45" stroke="#000" stroke-width="6.8" fill="none"/>
<rect x="842.05" y="2316.75" width="57" height="60.7" fill="#fff" stroke="#000" stroke-width="7.5"/>
<path d="M842.05,2316.75 L899.05,2377.45 M899.05,2316.75 L842.05,2377.45" stroke="#000" stroke-width="6.8" fill="none"/>
</g>
<g id="logo">
<path d="M1555,258 H1587 V289 Q1587,310 1561,313.5 H1555 Z" fill="#9DB8B5"/>
<path d="M1540.7,313.5 V260 Q1540.7,247.3 1553.5,247.3 H1575.5 Q1588.3,247.3 1588.3,260 V284 Q1588.3,313.5 1558,313.5 Z" fill="none" stroke="#484848" stroke-width="5.8" stroke-linejoin="round"/>
<path d="M1541,262.5 L1566.5,276 L1588,259.5" fill="none" stroke="#484848" stroke-width="5.8" stroke-linejoin="round"/>
<path d="M1541,285.5 Q1559,289 1557,313" fill="none" stroke="#484848" stroke-width="5.8"/>
</g>
<text x="160.06" y="716.9" font-size="60" font-weight="bold" fill="#000" textLength="157.67" lengthAdjust="spacingAndGlyphs">Client</text>
<text x="469.60" y="713.7" font-size="60" font-weight="bold" fill="#000" textLength="293.73" lengthAdjust="spacingAndGlyphs">Webpages</text>
<text x="1096.34" y="809.0" font-size="60" font-weight="bold" fill="#000" textLength="217.26" lengthAdjust="spacingAndGlyphs">Crawler</text>
<text x="1718.88" y="713.2" font-size="60" font-weight="bold" fill="#000" textLength="140.70" lengthAdjust="spacingAndGlyphs">Page</text>
<text x="1641.84" y="770.4" font-size="60" font-weight="bold" fill="#000" textLength="294.83" lengthAdjust="spacingAndGlyphs">Repository</text>
<text x="177.83" y="1416.2" font-size="60" font-weight="bold" fill="#000" textLength="125.81" lengthAdjust="spacingAndGlyphs">User</text>
<text x="117.10" y="1473.4" font-size="60" font-weight="bold" fill="#000" textLength="250.31" lengthAdjust="spacingAndGlyphs">Interface</text>
<text x="822.40" y="1320.4" font-size="60" font-weight="bold" fill="#000" textLength="274.95" lengthAdjust="spacingAndGlyphs">Scheduler</text>
<text x="1450.77" y="1316.7" font-size="60" font-weight="bold" fill="#000" textLength="138.30" lengthAdjust="spacingAndGlyphs">URLs</text>
<text x="1686.08" y="1315.1" font-size="60" font-weight="bold" fill="#000" textLength="178.51" lengthAdjust="spacingAndGlyphs">Parser</text>
<text x="1671.80" y="1868.3" font-size="60" font-weight="bold" fill="#000" textLength="208.20" lengthAdjust="spacingAndGlyphs">Indexer</text>
<text x="791.83" y="1869.0" font-size="60" font-weight="bold" fill="#000" textLength="406.69" lengthAdjust="spacingAndGlyphs">Indexed Pages</text>
<text x="169.69" y="2209.6" font-size="60" font-weight="bold" fill="#000" textLength="166.02" lengthAdjust="spacingAndGlyphs">Query</text>
<text x="160.04" y="2266.6" font-size="60" font-weight="bold" fill="#000" textLength="185.63" lengthAdjust="spacingAndGlyphs">Engine</text>
<text x="690.24" y="2460.4" font-size="60" font-weight="bold" fill="#000" textLength="208.97" lengthAdjust="spacingAndGlyphs">Ranked</text>
<text x="710.36" y="2517.5" font-size="60" font-weight="bold" fill="#000" textLength="169.50" lengthAdjust="spacingAndGlyphs">Pages</text>
<text x="1229.86" y="2394.7" font-size="88" font-weight="normal" fill="#0C3270" stroke="#0C3270" stroke-width="1.6" stroke-linejoin="round" textLength="330.43" lengthAdjust="spacingAndGlyphs">Ranking</text>
<text x="651.21" y="2027.4" font-size="50" font-weight="normal" fill="#000" textLength="200.12" lengthAdjust="spacingAndGlyphs">feedback</text>
<text x="1607.45" y="300.2" font-size="60" font-weight="normal" fill="#484848" stroke="#484848" stroke-width="1.6" stroke-linejoin="round" textLength="340.45" lengthAdjust="spacingAndGlyphs">ByteByteGo</text>
<text aria-label="How" font-weight="bold" fill="#000" stroke="#000" stroke-linejoin="round"><tspan x="100.48" y="167.5" font-size="117" stroke-width="5" textLength="88.27" lengthAdjust="spacingAndGlyphs">H</tspan><tspan x="185.93" y="167.6" font-size="104.5" stroke-width="5" textLength="72.46" lengthAdjust="spacingAndGlyphs">o</tspan><tspan x="261.52" y="167.6" font-size="104.5" stroke-width="5" textLength="71.02" lengthAdjust="spacingAndGlyphs">w</tspan></text>
<text aria-label="do" font-weight="bold" fill="#000" stroke="#000" stroke-linejoin="round"><tspan x="370.72" y="167.5" font-size="110" stroke-width="5" textLength="73.25" lengthAdjust="spacingAndGlyphs">d</tspan><tspan x="442.66" y="167.6" font-size="104.5" stroke-width="5" textLength="71.61" lengthAdjust="spacingAndGlyphs">o</tspan></text>
<text aria-label="Search" font-weight="bold" fill="#000" stroke="#000" stroke-linejoin="round"><tspan x="549.77" y="167.5" font-size="117" stroke-width="5" textLength="80.54" lengthAdjust="spacingAndGlyphs">S</tspan><tspan x="630.32" y="167.6" font-size="104.5" stroke-width="5" textLength="69.22" lengthAdjust="spacingAndGlyphs">e</tspan><tspan x="702.96" y="167.6" font-size="104.5" stroke-width="5" textLength="66.36" lengthAdjust="spacingAndGlyphs">a</tspan><tspan x="772.12" y="167.6" font-size="104.5" stroke-width="5" textLength="49.62" lengthAdjust="spacingAndGlyphs">r</tspan><tspan x="826.81" y="167.6" font-size="104.5" stroke-width="5" textLength="66.43" lengthAdjust="spacingAndGlyphs">c</tspan><tspan x="893.48" y="167.5" font-size="110" stroke-width="5" textLength="74.16" lengthAdjust="spacingAndGlyphs">h</tspan></text>
<text aria-label="Engines" font-weight="bold" fill="#000" stroke="#000" stroke-linejoin="round"><tspan x="1001.20" y="167.5" font-size="117" stroke-width="5" textLength="82.77" lengthAdjust="spacingAndGlyphs">E</tspan><tspan x="1084.30" y="167.6" font-size="104.5" stroke-width="5" textLength="70.23" lengthAdjust="spacingAndGlyphs">n</tspan><tspan x="1153.95" y="167.6" font-size="104.5" stroke-width="5" textLength="74.93" lengthAdjust="spacingAndGlyphs">g</tspan><tspan x="1225.12" y="167.5" font-size="110" stroke-width="5" textLength="34.08" lengthAdjust="spacingAndGlyphs">i</tspan><tspan x="1256.90" y="167.6" font-size="104.5" stroke-width="5" textLength="70.23" lengthAdjust="spacingAndGlyphs">n</tspan><tspan x="1327.45" y="167.6" font-size="104.5" stroke-width="5" textLength="68.16" lengthAdjust="spacingAndGlyphs">e</tspan><tspan x="1397.65" y="167.6" font-size="104.5" stroke-width="5" textLength="66.69" lengthAdjust="spacingAndGlyphs">s</tspan></text>
<text aria-label="Work?" font-weight="bold" fill="#000" stroke="#000" stroke-linejoin="round"><tspan x="1501.82" y="167.5" font-size="117" stroke-width="5" textLength="89.21" lengthAdjust="spacingAndGlyphs">W</tspan><tspan x="1593.98" y="167.6" font-size="104.5" stroke-width="5" textLength="70.97" lengthAdjust="spacingAndGlyphs">o</tspan><tspan x="1663.22" y="167.6" font-size="104.5" stroke-width="5" textLength="49.62" lengthAdjust="spacingAndGlyphs">r</tspan><tspan x="1716.16" y="167.5" font-size="110" stroke-width="5" textLength="67.82" lengthAdjust="spacingAndGlyphs">k</tspan><tspan x="1786.73" y="167.5" font-size="117" stroke-width="5" textLength="66.00" lengthAdjust="spacingAndGlyphs">?</tspan></text>
</svg>
</body></html>
